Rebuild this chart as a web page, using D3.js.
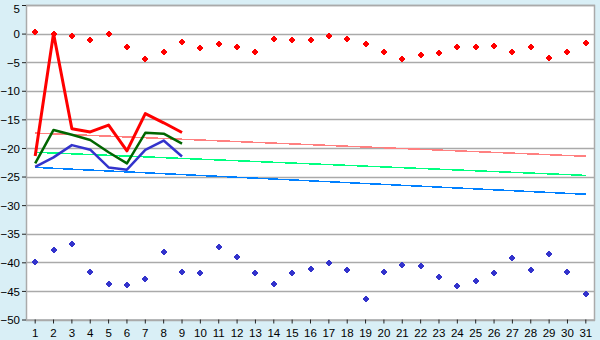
<!DOCTYPE html>
<html>
<head>
<meta charset="utf-8">
<script src="https://cdn.jsdelivr.net/npm/d3@7"></script>
<style>
  html, body { margin: 0; padding: 0; background: #d9eff6; }
  svg { display: block; }
</style>
</head>
<body>
<svg id="chart"></svg>
<script>
// categories (days)
const days = d3.range(1, 32);

// upper scatter (red diamonds)
const redPoints = [0.2, 0, -0.35, -1.05, 0, -2.3, -4.4, -3.15, -1.4, -2.45,
  -1.75, -2.3, -3.15, -0.9, -1.05, -1.05, -0.5, -0.9, -1.75, -3.15,
  -4.4, -3.7, -3.35, -2.3, -2.3, -2.1, -3.15, -2.3, -4.2, -3.15, -1.6];

// lower scatter (blue diamonds)
const bluePoints = [-40, -37.9, -36.85, -41.75, -43.85, -44.0, -43.0, -38.25, -41.75, -41.9,
  -37.4, -39.1, -41.9, -43.85, -41.9, -41.2, -40.2, -41.4, -46.5, -41.75,
  -40.5, -40.7, -42.6, -44.2, -43.35, -41.9, -39.3, -41.4, -38.6, -41.75, -45.55];

// lines, days 1..9
const redLine = [-21.4, 0, -16.65, -17.2, -16.0, -20.5, -14.0, -15.6, -17.3];
const greenLine = [-22.7, -16.85, -17.7, -18.6, -20.75, -22.7, -17.35, -17.5, -19.25];
const blueLine = [-23.3, -21.65, -19.5, -20.3, -23.4, -23.8, -20.35, -18.7, -21.5];

// trend lines, value at day 1 and day 31
const trendPink = [-17.4, -21.45];
const trendGreen = [-20.75, -24.8];
const trendBlue = [-23.4, -28.1];

const yTicks = d3.range(5, -51, -5);

const width = 600, height = 340;
const plot = { left: 26, right: 595, top: 5, bottom: 319.5 };
const FONT = "'Liberation Sans', Arial, sans-serif";

const svg = d3.select("#chart").attr("width", width).attr("height", height);

svg.append("rect").attr("width", width).attr("height", height).attr("fill", "#d9eff6");
svg.append("rect")
  .attr("x", plot.left).attr("y", plot.top)
  .attr("width", plot.right - plot.left).attr("height", plot.bottom - plot.top)
  .attr("fill", "#ffffff");

const x = d3.scaleBand().domain(days).range([plot.left, plot.right]);
const cx = d => x(d) + x.bandwidth() / 2;
const y = d3.scaleLinear().domain([-50, 5]).range([plot.bottom, plot.top]);

// gridlines
svg.append("g")
  .selectAll("line")
  .data(yTicks)
  .join("line")
  .attr("x1", plot.left).attr("x2", plot.right)
  .attr("y1", d => Math.round(y(d)) + 0.5).attr("y2", d => Math.round(y(d)) + 0.5)
  .attr("stroke", "#aaaaaa").attr("stroke-width", 1.5);

// frame
svg.append("rect")
  .attr("x", plot.left + 0.5).attr("y", plot.top + 0.5)
  .attr("width", plot.right - plot.left - 1).attr("height", plot.bottom - plot.top)
  .attr("fill", "none").attr("stroke", "#aaaaaa").attr("stroke-width", 1.5);

// axes
const yAxis = d3.axisLeft(y).tickValues(yTicks).tickSize(4).tickPadding(2)
  .tickFormat(d => d < 0 ? "\u2212" + Math.abs(d) : d);
const gy = svg.append("g").attr("transform", `translate(${plot.left},0)`).call(yAxis);
gy.select(".domain").remove();
gy.selectAll(".tick text").attr("dy", "0.36em");
// keep the top label inside the window
gy.selectAll(".tick").filter(d => d === 5).select("text").attr("dy", "0.62em");

const xAxis = d3.axisBottom(x).tickSize(4).tickPadding(5);
const gx = svg.append("g").attr("transform", `translate(0,${plot.bottom})`).call(xAxis);
gx.select(".domain").remove();

svg.selectAll(".tick text")
  .attr("font-family", FONT)
  .attr("font-size", 11.5)
  .attr("fill", "#000");
svg.selectAll(".tick line").attr("stroke", "#222");

// trend lines
const trends = [
  { vals: trendPink, color: "#ff8080" },
  { vals: trendGreen, color: "#00ff80" },
  { vals: trendBlue, color: "#0080ff" }
];
svg.append("g")
  .selectAll("line")
  .data(trends)
  .join("line")
  .attr("x1", cx(days[0])).attr("x2", cx(days[days.length - 1]))
  .attr("y1", d => y(d.vals[0])).attr("y2", d => y(d.vals[1]))
  .attr("stroke", d => d.color).attr("stroke-width", 1.5)
  .attr("shape-rendering", "crispEdges");

// main lines
const line = d3.line().x((d, i) => cx(days[i])).y(d => y(d));
const series = [
  { vals: blueLine, color: "#3333cc", w: 2.5 },
  { vals: greenLine, color: "#006600", w: 2.5 },
  { vals: redLine, color: "#ff0000", w: 3 }
];
svg.append("g")
  .selectAll("path")
  .data(series)
  .join("path")
  .attr("d", d => line(d.vals))
  .attr("fill", "none")
  .attr("stroke", d => d.color)
  .attr("stroke-width", d => d.w)
  .attr("stroke-linejoin", "round");

// diamond markers
const marker = "M-1,-3.5h2v1h1v1h1v2h-1v1h-1v1h-2v-1h-1v-1h-1v-2h1v-1h1z";
function drawMarkers(vals, color) {
  svg.append("g")
    .selectAll("path")
    .data(vals)
    .join("path")
    .attr("d", marker)
    .attr("transform", (d, i) => `translate(${Math.round(cx(days[i]))},${Math.round(y(d))})`)
    .attr("fill", color)
    .attr("shape-rendering", "crispEdges");
}
drawMarkers(redPoints, "#ff0000");
drawMarkers(bluePoints, "#3333cc");
</script>
</body>
</html>
